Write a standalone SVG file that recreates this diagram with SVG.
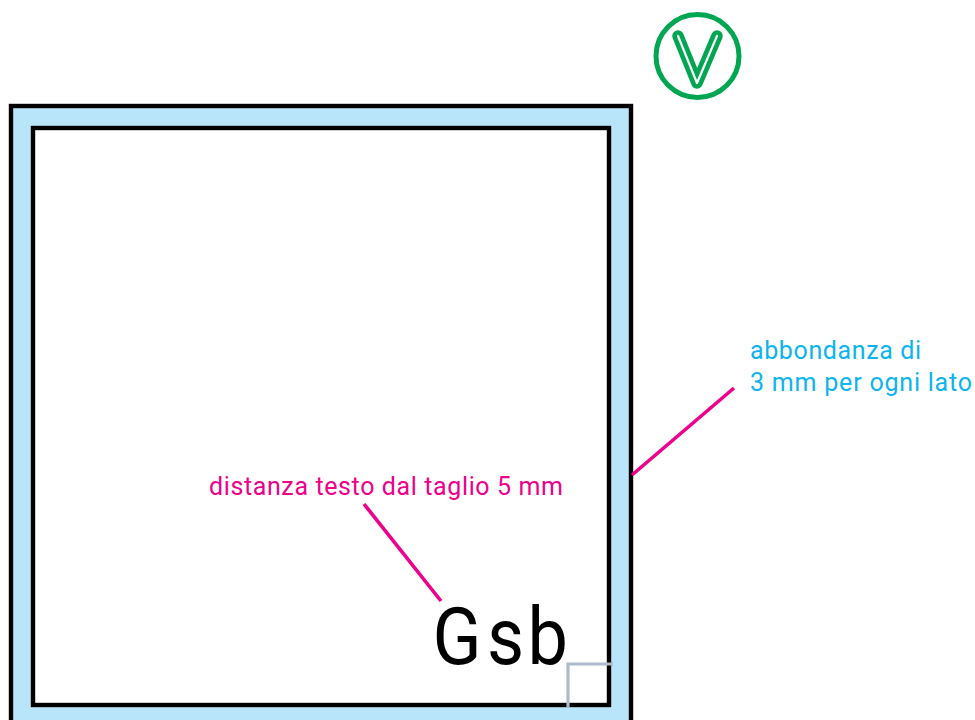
<svg xmlns="http://www.w3.org/2000/svg" width="975" height="720" viewBox="0 0 975 720">
<style>
.lead{stroke:#ec008c;stroke-width:3.6;fill:none}
.t{font-family:"Roboto","Liberation Sans",sans-serif}
.frame{stroke:#000;stroke-width:4.4}
</style>
<rect width="975" height="720" fill="#fff"/>
<g id="bleed"><rect class="frame" x="11" y="106" width="620" height="620" fill="#b9e5fb"/></g>
<g id="trim"><rect class="frame" x="33" y="128" width="576" height="577" fill="#fff"/></g>
<g id="margin"><path d="M568 708V664H613" fill="none" stroke="#adbccb" stroke-width="3.200"/></g>
<g id="sample"><text class="t" transform="translate(0 664) scale(.9 1)" x="480.600 541 586" y="0" font-size="80" fill="#000">Gsb</text></g>
<g id="connectors">
<line class="lead" x1="632" y1="475" x2="734" y2="388"/>
<line class="lead" x1="364" y1="504" x2="441" y2="601"/>
</g>
<g id="label-distance"><text class="t" x="209" y="495" font-size="25" textLength="354" lengthAdjust="spacing" fill="#ec008c">distanza testo dal taglio 5 mm</text></g>
<g id="label-bleed" fill="#0db4f0">
<text class="t" x="750" y="359" font-size="25" textLength="171" lengthAdjust="spacing">abbondanza di</text>
<text class="t" x="750" y="391" font-size="25" textLength="222" lengthAdjust="spacing">3 mm per ogni lato</text>
</g>
<g id="check">
<circle cx="697.500" cy="56" r="41.500" fill="none" stroke="#00a651" stroke-width="5"/>
<path d="M678 36L697 83L717 36" fill="none" stroke="#00a651" stroke-width="11.500" stroke-linecap="round" stroke-linejoin="round"/>
<path d="M678 36L697 83L717 36" fill="none" stroke="#fff" stroke-width="2.200" stroke-linecap="round" stroke-linejoin="round"/>
</g>
</svg>
